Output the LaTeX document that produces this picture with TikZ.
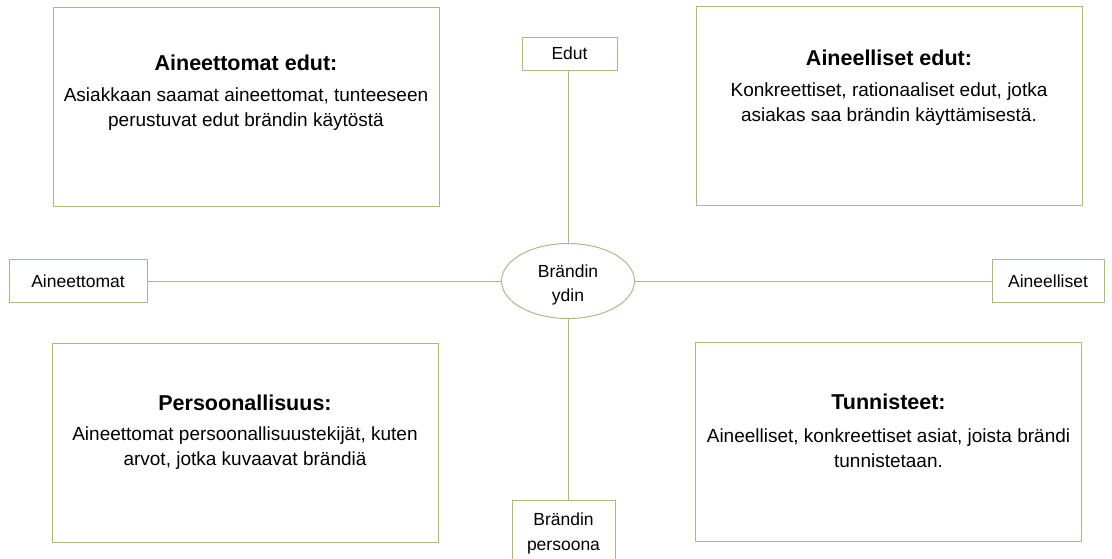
\documentclass[tikz,border=0pt]{standalone}
\usepackage{fontspec}
\setmainfont{Liberation Sans}
\usetikzlibrary{shapes.geometric}
\usetikzlibrary{positioning}
\definecolor{vihrea}{RGB}{163,190,130}

\begin{document}
\begin{tikzpicture}[
    x=1pt, y=-1pt,
    font=\fontsize{17.5}{25}\selectfont,
    laatikko/.style={draw=vihrea, line width=1pt, fill=none,
                     minimum width=386pt, minimum height=199pt},
    pieni/.style={draw=vihrea, line width=1pt, fill=none,
                  inner sep=0pt, align=center},
    otsikko/.style={font=\fontsize{21.5}{25}\selectfont\bfseries},
    teksti/.style={align=center, font=\fontsize{19}{25}\selectfont},
    viiva/.style={draw=vihrea, line width=1pt}
  ]
  \useasboundingbox (0,0) rectangle (1112,558);

  % ── isot laatikot ───────────────────────────────────────────────
  \node[laatikko] (TL) at (246, 106.5) {};
  \node[laatikko] (TR) at (889, 105.5) {};
  \node[laatikko] (BL) at (245, 442.5) {};
  \node[laatikko] (BR) at (888.5, 442) {};

  \node[otsikko] at (TL.center) [yshift=44pt] {Aineettomat edut:};
  \node[teksti]  at (TL.center) [yshift=-3pt]
    {Asiakkaan saamat aineettomat, tunteeseen\\perustuvat edut brändin käytöstä};

  \node[otsikko] at (TR.center) [yshift=48pt] {Aineelliset edut:};
  \node[teksti]  at (TR.center) [yshift=1pt]
    {Konkreettiset, rationaaliset edut, jotka\\asiakas saa brändin käyttämisestä.};

  \node[otsikko] at (BL.center) [yshift=40pt] {Persoonallisuus:};
  \node[teksti]  at (BL.center) [yshift=-6pt]
    {Aineettomat persoonallisuustekijät, kuten\\arvot, jotka kuvaavat brändiä};

  \node[otsikko] at (BR.center) [yshift=40pt] {Tunnisteet:};
  \node[teksti]  at (BR.center) [yshift=-6pt]
    {Aineelliset, konkreettiset asiat, joista brändi\\tunnistetaan.};

  % ── keskus ja akselien päät ─────────────────────────────────────
  \node[draw=vihrea, line width=1pt, ellipse,
        minimum width=133pt, minimum height=75pt, inner sep=0pt] (ydin) at (568, 281) {};
  \node at (ydin.center) [yshift=-4pt, align=center,
        font=\fontsize{17.5}{24}\selectfont] {Brändin\\ydin};

  \node[pieni, minimum width=95pt, minimum height=33pt] (edut) at (569.5, 53.5) {Edut};
  \node[pieni, minimum width=138pt, minimum height=43pt] (aineettomat) at (78, 281) {Aineettomat};
  \node[pieni, minimum width=112pt, minimum height=43pt] (aineelliset) at (1048, 281) {Aineelliset};
  \node[pieni, minimum width=103pt, minimum height=66pt] (persoona) at (563.5, 533)
    {Brändin\\persoona};

  % ── akselit ─────────────────────────────────────────────────────
  \draw[viiva] (ydin.north |- edut.south) -- (ydin.north);
  \draw[viiva] (ydin.south) -- (ydin.south |- persoona.north);
  \draw[viiva] (aineettomat.east) -- (ydin.west);
  \draw[viiva] (ydin.east) -- (aineelliset.west);

\end{tikzpicture}
\end{document}
